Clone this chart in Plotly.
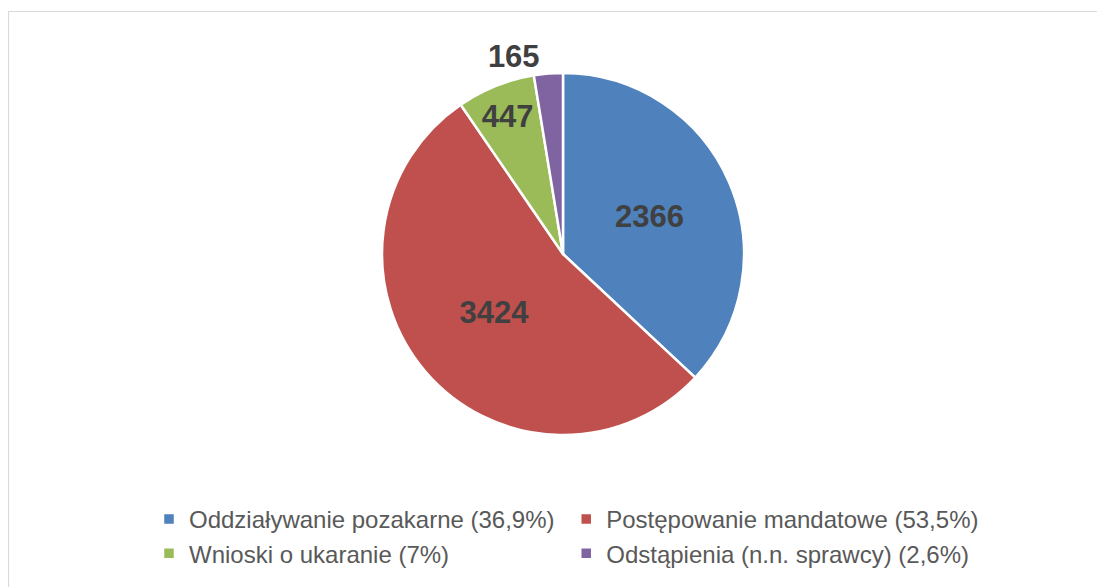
import plotly.graph_objects as go

categories = ["Oddziaływanie pozakarne", "Postępowanie mandatowe",
              "Wnioski o ukaranie", "Odstąpienia (n.n. sprawcy)"]
values = [2366, 3424, 447, 165]
percent_labels = ["36,9%", "53,5%", "7%", "2,6%"]
colors = ["#4F81BD", "#C0504D", "#9BBB59", "#8064A2"]
text_positions = ["inside", "inside", "inside", "outside"]

W, H = 1105, 587
OFF = 8  # default page body margin in the browser
legend_names = [f"{c} ({p})" for c, p in zip(categories, percent_labels)]

cx, cy, R = 563 - OFF, 254 - OFF, 181

fig = go.Figure(go.Pie(
    labels=legend_names,
    values=values,
    sort=False,
    direction="clockwise",
    rotation=0,
    marker=dict(colors=colors, line=dict(color="white", width=2.5)),
    textinfo="value",
    textposition=text_positions,
    insidetextorientation="horizontal",
    textfont=dict(family="Liberation Sans, Arial, sans-serif", size=31,
                  color="#404040", weight="bold"),
    outsidetextfont=dict(family="Liberation Sans, Arial, sans-serif", size=31,
                         color="#404040", weight="bold"),
    domain=dict(x=[(cx - R) / W, (cx + R) / W],
                y=[(H - (cy + R)) / H, (H - (cy - R)) / H]),
    hoverinfo="label+value",
))

fig.update_layout(
    width=W, height=H,
    margin=dict(l=0, r=0, t=0, b=0),
    paper_bgcolor="white",
    plot_bgcolor="white",
    showlegend=True,
    legend=dict(
        orientation="h",
        x=141 / W, xanchor="left",
        y=(H - 489) / H, yanchor="top",
        itemwidth=30,
        font=dict(family="Liberation Sans, Arial, sans-serif", size=24, color="#595959"),
        traceorder="normal",
    ),
    shapes=[dict(type="rect", xref="paper", yref="paper",
                 x0=0.5 / W, x1=1.05, y0=-0.05, y1=(H - 3.5) / H,
                 line=dict(color="#D9D9D9", width=1.2), fillcolor="rgba(0,0,0,0)")],
)

fig.write_html("out.html")
